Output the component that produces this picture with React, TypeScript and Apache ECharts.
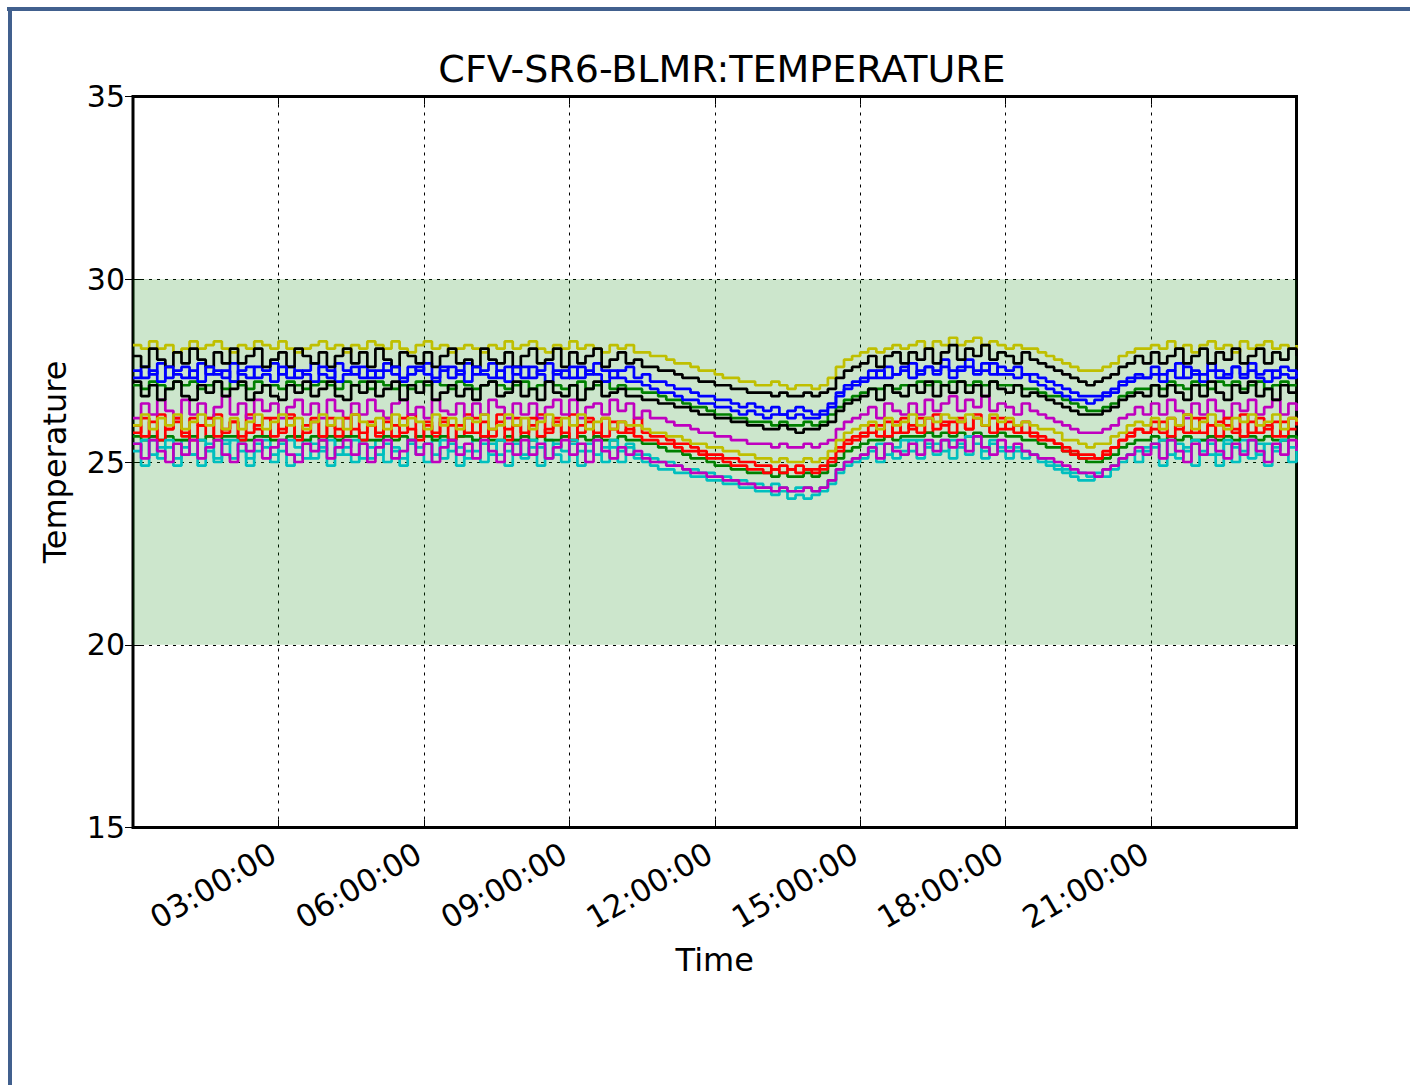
import React, { useEffect, useRef } from "react";
import * as echarts from "echarts";

// One reading every 10 minutes, 00:00 -> 24:00 (145 readings per sensor)
const STEP_HOURS = 1 / 6;
const X_TICK_LABELS_FMT = (v: number) => String(v).padStart(2, "0") + ":00:00";

const yellowA = [
  28.2,28.1,28.3,28.1,28.2,28.0, 28.1,28.3,28.1,28.2,28.3,28.1,
  28.0,28.2,28.1,28.3,28.2,28.1, 28.3,28.1,28.0,28.1,28.2,28.3,
  28.1,28.2,28.0,28.2,28.1,28.3, 28.2,28.1,28.3,28.1,28.0,28.2,
  28.3,28.1,28.2,28.0,28.1,28.2, 28.1,28.0,28.2,28.1,28.3,28.1,
  28.2,28.3,28.1,28.0,28.2,28.1, 28.3,28.1,28.2,28.1,28.0,28.2,
  28.1,28.2,28.0,28.0,27.9,27.9, 27.8,27.7,27.7,27.6,27.5,27.5,
  27.4,27.3,27.3,27.2,27.2,27.1, 27.1,27.2,27.1,27.0,27.1,27.1,
  27.0,27.1,27.3,27.6,27.8,27.9, 28.0,28.1,28.0,28.1,28.2,28.1,
  28.2,28.3,28.1,28.3,28.2,28.4, 28.2,28.3,28.4,28.2,28.3,28.2,
  28.1,28.2,28.1,28.1,28.0,27.9, 27.8,27.7,27.6,27.5,27.5,27.5,
  27.6,27.7,27.9,28.0,28.1,28.1, 28.2,28.1,28.3,28.1,28.2,28.0,
  28.2,28.3,28.1,28.2,28.0,28.3, 28.1,28.2,28.3,28.1,28.2,28.1,
  28.2,
];
const blackA = [
  27.9,27.6,28.1,27.8,27.6,28.0, 27.7,28.1,27.8,27.6,28.0,27.7,
  28.1,27.7,27.9,28.1,27.6,27.8, 28.0,27.6,28.1,27.9,27.7,28.0,
  27.6,27.9,28.1,27.7,28.0,27.6, 28.1,27.8,27.6,28.0,27.9,27.7,
  28.0,27.6,27.9,28.1,27.7,27.8, 27.6,28.1,27.8,27.7,28.0,27.6,
  27.9,28.1,27.7,27.8,28.1,27.6, 28.0,27.7,27.9,28.1,27.6,27.8,
  28.0,27.7,27.8,27.6,27.6,27.5, 27.5,27.4,27.3,27.3,27.2,27.2,
  27.1,27.1,27.0,27.0,26.9,26.9, 26.9,26.8,26.9,26.8,26.8,26.9,
  26.8,26.9,27.0,27.3,27.5,27.6, 27.7,27.9,27.6,27.9,28.0,27.7,
  28.0,27.8,28.1,27.7,28.0,28.2, 27.8,28.1,27.9,28.2,27.8,28.0,
  27.9,27.7,28.0,27.8,27.7,27.6, 27.5,27.4,27.3,27.2,27.1,27.2,
  27.3,27.4,27.6,27.7,27.9,27.7, 28.0,27.7,27.9,28.1,27.7,27.9,
  28.1,27.7,28.0,27.8,28.1,27.7, 27.9,28.1,27.7,28.0,27.8,28.1,
  27.9,
];
const blueA = [
  27.3,27.6,27.4,27.7,27.3,27.5, 27.6,27.3,27.7,27.4,27.5,27.3,
  27.7,27.4,27.3,27.6,27.5,27.7, 27.4,27.6,27.3,27.5,27.7,27.4,
  27.3,27.7,27.5,27.4,27.6,27.3, 27.5,27.7,27.4,27.3,27.6,27.5,
  27.7,27.3,27.5,27.6,27.4,27.7, 27.4,27.5,27.7,27.3,27.6,27.4,
  27.6,27.3,27.5,27.7,27.4,27.5, 27.3,27.6,27.4,27.7,27.5,27.3,
  27.5,27.6,27.3,27.4,27.2,27.2, 27.1,27.0,27.0,26.9,26.8,26.8,
  26.7,26.7,26.6,26.5,26.6,26.5, 26.4,26.5,26.3,26.4,26.5,26.4,
  26.3,26.4,26.6,26.9,27.1,27.2, 27.3,27.5,27.3,27.6,27.4,27.5,
  27.7,27.4,27.6,27.5,27.8,27.5, 27.6,27.8,27.5,27.7,27.4,27.6,
  27.5,27.6,27.4,27.4,27.3,27.2, 27.1,27.0,26.9,26.8,26.8,26.8,
  26.9,27.0,27.2,27.3,27.4,27.3, 27.6,27.4,27.5,27.7,27.3,27.5,
  27.4,27.7,27.5,27.3,27.6,27.4, 27.7,27.4,27.5,27.3,27.6,27.5,
  27.4,
];
const blueB = [
  27.5,27.3,27.5,27.2,27.6,27.4, 27.3,27.5,27.2,27.6,27.4,27.5,
  27.2,27.5,27.6,27.3,27.4,27.2, 27.6,27.3,27.5,27.4,27.2,27.6,
  27.5,27.2,27.4,27.6,27.3,27.5, 27.3,27.5,27.6,27.2,27.4,27.6,
  27.4,27.2,27.6,27.3,27.5,27.2, 27.6,27.4,27.3,27.5,27.2,27.6,
  27.3,27.6,27.4,27.2,27.5,27.3, 27.6,27.3,27.5,27.4,27.2,27.5,
  27.3,27.2,27.2,27.1,27.0,26.9, 26.9,26.8,26.7,26.7,26.6,26.6,
  26.5,26.5,26.4,26.3,26.4,26.3, 26.2,26.3,26.3,26.2,26.3,26.2,
  26.2,26.3,26.5,26.8,27.0,27.1, 27.2,27.3,27.5,27.3,27.4,27.6,
  27.3,27.5,27.6,27.4,27.6,27.3, 27.5,27.6,27.4,27.5,27.7,27.4,
  27.4,27.3,27.4,27.2,27.1,27.0, 26.9,26.8,26.7,26.7,26.6,26.7,
  26.8,26.9,27.1,27.2,27.3,27.3, 27.4,27.2,27.5,27.3,27.6,27.4,
  27.2,27.5,27.3,27.4,27.6,27.3, 27.5,27.3,27.2,27.5,27.4,27.3,
  27.4,
];
const greenA = [
  27.1,27.0,27.2,27.1,27.0,27.2, 27.1,27.2,27.0,27.1,27.2,27.0,
  27.2,27.1,27.0,27.2,27.1,27.1, 27.0,27.2,27.1,27.0,27.1,27.2,
  27.1,27.0,27.2,27.1,27.2,27.0, 27.2,27.1,27.0,27.1,27.0,27.2,
  27.1,27.2,27.1,27.0,27.2,27.1, 27.0,27.1,27.2,27.1,27.0,27.1,
  27.2,27.0,27.1,27.2,27.1,27.0, 27.1,27.2,27.0,27.1,27.2,27.0,
  27.1,27.0,27.0,26.9,26.9,26.8, 26.7,26.7,26.6,26.5,26.5,26.4,
  26.3,26.3,26.2,26.2,26.1,26.1, 26.1,26.0,26.1,26.0,26.0,26.1,
  26.0,26.1,26.3,26.5,26.7,26.8, 26.9,27.0,27.0,27.1,27.0,27.1,
  27.1,27.2,27.1,27.2,27.1,27.2, 27.2,27.1,27.2,27.1,27.2,27.1,
  27.1,27.1,27.0,27.0,26.9,26.8, 26.8,26.7,26.6,26.5,26.4,26.4,
  26.5,26.6,26.8,26.9,27.0,27.0, 27.1,27.0,27.2,27.1,27.0,27.2,
  27.1,27.0,27.2,27.1,27.2,27.0, 27.1,27.2,27.0,27.1,27.2,27.1,
  27.1,
];
const blackB = [
  27.2,26.8,27.1,26.7,27.0,27.2, 26.8,26.7,27.1,26.9,27.2,26.8,
  27.0,27.2,26.7,26.9,27.1,26.8, 26.7,27.1,26.9,27.2,26.8,27.0,
  27.2,26.8,26.7,27.1,26.9,27.2, 26.8,27.0,27.2,26.7,27.1,26.9,
  27.2,26.7,26.9,27.1,26.8,27.0, 26.7,27.1,27.2,26.8,26.9,27.2,
  26.8,27.0,26.7,27.2,26.9,26.8, 27.1,26.7,27.0,27.2,26.8,26.9,
  27.0,26.8,26.8,26.7,26.7,26.6, 26.6,26.5,26.5,26.4,26.3,26.3,
  26.2,26.2,26.1,26.1,26.0,26.0, 25.9,25.9,26.0,25.9,25.8,25.9,
  25.9,26.0,26.1,26.4,26.6,26.7, 26.8,27.0,26.7,27.1,26.9,26.8,
  27.1,26.9,27.2,26.8,27.1,26.9, 27.2,26.9,27.1,26.8,27.2,27.0,
  26.9,27.1,26.8,26.9,26.8,26.7, 26.6,26.5,26.4,26.3,26.3,26.3,
  26.4,26.5,26.7,26.8,26.9,26.8, 27.1,26.8,27.1,26.9,26.7,27.1,
  26.8,27.2,26.9,26.7,27.1,26.9, 27.2,26.8,27.0,26.7,27.1,26.9,
  27.0,
];
const magentaA = [
  26.2,26.6,26.3,26.7,26.4,26.2, 26.7,26.3,26.6,26.2,26.5,26.8,
  26.3,26.6,26.2,26.7,26.4,26.6, 26.2,26.5,26.7,26.3,26.6,26.2,
  26.7,26.4,26.2,26.6,26.3,26.7, 26.4,26.2,26.6,26.7,26.3,26.5,
  26.2,26.7,26.4,26.3,26.6,26.2, 26.6,26.3,26.7,26.5,26.2,26.6,
  26.3,26.6,26.2,26.5,26.7,26.3, 26.7,26.2,26.5,26.6,26.3,26.7,
  26.4,26.6,26.2,26.4,26.2,26.2, 26.1,26.0,26.0,25.9,25.8,25.8,
  25.7,25.7,25.6,25.6,25.5,25.5, 25.5,25.4,25.5,25.4,25.4,25.5,
  25.4,25.5,25.6,25.9,26.1,26.2, 26.3,26.5,26.2,26.6,26.4,26.3,
  26.6,26.3,26.7,26.4,26.6,26.8, 26.4,26.7,26.5,26.8,26.4,26.6,
  26.5,26.3,26.6,26.4,26.3,26.2, 26.1,26.0,25.9,25.8,25.8,25.8,
  25.9,26.0,26.2,26.3,26.5,26.3, 26.6,26.3,26.7,26.4,26.2,26.6,
  26.3,26.7,26.4,26.2,26.6,26.4, 26.7,26.3,26.5,26.7,26.3,26.6,
  26.4,
];
const yellowB = [
  26.0,26.3,25.9,26.2,26.0,26.3, 25.9,26.1,26.3,26.0,26.2,25.9,
  26.2,25.9,26.1,26.3,25.9,26.1, 26.3,26.0,26.2,25.9,26.1,26.3,
  26.0,26.2,25.9,26.3,26.1,26.0, 26.2,25.9,26.3,26.0,26.2,26.1,
  25.9,26.3,26.0,26.2,25.9,26.2, 26.1,26.3,25.9,26.0,26.3,26.0,
  26.2,25.9,26.1,26.3,26.0,26.2, 26.0,26.3,25.9,26.1,26.2,25.9,
  26.1,26.0,26.0,25.9,25.8,25.8, 25.7,25.7,25.6,25.5,25.5,25.4,
  25.4,25.3,25.3,25.2,25.2,25.1, 25.1,25.0,25.1,25.0,25.0,25.1,
  25.0,25.1,25.3,25.6,25.8,25.9, 26.0,26.1,25.9,26.2,26.0,26.1,
  26.3,26.0,26.2,26.1,26.3,26.2, 26.1,26.3,26.2,26.0,26.3,26.1,
  26.2,26.0,26.1,26.0,25.9,25.9, 25.8,25.6,25.6,25.5,25.4,25.5,
  25.5,25.7,25.8,26.0,26.1,26.0, 26.2,25.9,26.2,26.0,26.3,25.9,
  26.1,26.3,26.0,25.9,26.2,26.1, 26.3,26.0,26.1,26.3,25.9,26.2,
  26.1,
];
const redA = [
  25.8,26.2,25.7,26.3,25.9,26.1, 25.7,26.2,26.0,25.7,26.3,25.8,
  26.1,25.7,26.3,25.9,25.7,26.2, 25.8,26.3,25.7,26.0,26.2,25.7,
  26.2,25.9,25.7,26.3,25.8,26.1, 25.7,26.2,26.0,25.8,26.3,25.7,
  26.1,25.7,26.2,26.0,25.7,26.3, 25.8,26.1,25.7,26.3,25.9,26.2,
  25.7,26.0,26.3,25.8,26.2,25.7, 26.3,25.8,26.1,25.7,26.2,25.9,
  26.1,25.8,26.2,25.8,25.7,25.7, 25.6,25.5,25.5,25.4,25.3,25.2,
  25.2,25.1,25.1,25.0,25.0,24.9, 24.9,24.8,24.9,24.8,24.9,24.8,
  24.8,24.9,25.1,25.4,25.6,25.7, 25.8,26.0,25.7,26.1,25.8,26.2,
  25.9,26.2,25.8,26.3,26.0,26.1, 26.2,25.9,26.3,26.0,26.2,25.9,
  26.1,25.8,26.1,25.8,25.7,25.6, 25.5,25.4,25.3,25.2,25.2,25.1,
  25.3,25.4,25.6,25.8,25.9,25.8, 26.1,25.8,26.2,25.9,26.3,25.8,
  26.2,25.7,26.1,26.0,25.8,26.3, 25.8,26.2,25.9,26.1,25.7,26.2,
  26.0,
];
const redB = [
  26.0,25.7,26.1,25.6,25.9,26.2, 25.8,25.6,26.0,26.2,25.7,25.9,
  26.1,25.6,25.8,26.0,26.2,25.7, 25.9,26.2,25.6,25.8,26.1,25.7,
  26.0,25.7,26.2,25.9,25.6,26.0, 25.8,26.1,25.7,26.2,25.9,25.6,
  26.0,25.8,26.1,25.6,26.0,25.8, 26.2,25.7,25.9,26.1,25.6,26.0,
  25.8,26.2,25.7,25.9,26.1,25.8, 25.6,26.0,26.2,25.8,25.7,26.1,
  25.8,25.9,25.7,25.6,25.6,25.5, 25.5,25.4,25.3,25.3,25.2,25.1,
  25.1,25.0,24.9,24.9,24.8,24.8, 24.7,24.8,24.7,24.8,24.7,24.8,
  24.7,24.8,25.0,25.3,25.5,25.6, 25.7,25.8,26.0,25.7,26.1,25.8,
  26.0,25.8,26.2,25.9,26.1,25.8, 26.1,25.9,26.2,26.0,25.8,26.2,
  25.9,26.0,25.8,25.7,25.6,25.6, 25.5,25.3,25.2,25.1,25.1,25.1,
  25.2,25.4,25.6,25.7,25.9,25.8, 25.9,26.1,25.7,26.0,25.8,26.2,
  25.8,26.0,25.7,26.2,25.9,25.7, 26.1,25.8,26.0,25.7,26.1,25.9,
  25.9,
];
const greenB = [
  25.7,25.6,25.7,25.6,25.7,25.6, 25.6,25.7,25.6,25.7,25.6,25.7,
  25.7,25.6,25.6,25.7,25.7,25.6, 25.6,25.7,25.7,25.6,25.7,25.6,
  25.7,25.6,25.7,25.7,25.6,25.6, 25.6,25.7,25.6,25.7,25.6,25.7,
  25.7,25.6,25.7,25.6,25.7,25.7, 25.6,25.7,25.6,25.6,25.7,25.6,
  25.7,25.6,25.7,25.6,25.6,25.7, 25.6,25.7,25.6,25.7,25.6,25.6,
  25.7,25.6,25.6,25.5,25.5,25.4, 25.3,25.3,25.2,25.1,25.1,25.0,
  24.9,24.9,24.8,24.8,24.7,24.7, 24.7,24.6,24.7,24.6,24.6,24.7,
  24.6,24.7,24.9,25.1,25.3,25.4, 25.5,25.6,25.6,25.7,25.6,25.7,
  25.7,25.7,25.8,25.7,25.8,25.7, 25.8,25.7,25.8,25.7,25.7,25.8,
  25.7,25.7,25.6,25.6,25.5,25.4, 25.4,25.3,25.2,25.1,25.0,25.0,
  25.1,25.2,25.4,25.5,25.6,25.6, 25.7,25.6,25.7,25.6,25.7,25.6,
  25.6,25.7,25.6,25.7,25.6,25.7, 25.7,25.6,25.7,25.6,25.6,25.7,
  25.6,
];
const magentaB = [
  25.5,25.1,25.6,25.3,25.0,25.5, 25.2,25.6,25.1,25.4,25.6,25.2,
  25.0,25.5,25.3,25.6,25.1,25.4, 25.6,25.2,25.0,25.5,25.3,25.6,
  25.1,25.4,25.6,25.2,25.5,25.0, 25.4,25.6,25.1,25.3,25.6,25.2,
  25.5,25.0,25.4,25.6,25.2,25.5, 25.1,25.6,25.3,25.0,25.5,25.2,
  25.6,25.2,25.5,25.1,25.4,25.6, 25.2,25.5,25.0,25.6,25.3,25.1,
  25.4,25.2,25.3,25.1,25.0,25.0, 24.9,24.9,24.8,24.7,24.7,24.6,
  24.6,24.5,24.5,24.4,24.4,24.3, 24.3,24.2,24.3,24.2,24.2,24.3,
  24.2,24.3,24.5,24.8,25.0,25.1, 25.2,25.4,25.1,25.5,25.3,25.2,
  25.5,25.2,25.6,25.3,25.6,25.4, 25.6,25.3,25.7,25.4,25.2,25.6,
  25.3,25.5,25.3,25.2,25.1,25.1, 25.0,24.9,24.8,24.7,24.7,24.6,
  24.8,24.9,25.1,25.2,25.4,25.2, 25.5,25.1,25.6,25.3,25.0,25.5,
  25.2,25.6,25.3,25.1,25.5,25.2, 25.6,25.3,25.0,25.5,25.2,25.6,
  25.3,
];
const cyanA = [
  25.5,24.9,25.6,25.1,25.4,24.9, 25.6,25.2,24.9,25.5,25.0,25.6,
  25.1,25.5,24.9,25.3,25.6,25.0, 25.5,24.9,25.2,25.6,25.1,25.4,
  24.9,25.6,25.2,25.0,25.5,25.1, 25.6,25.0,25.4,24.9,25.5,25.2,
  25.0,25.6,25.1,25.5,24.9,25.3, 25.6,25.0,25.5,25.2,24.9,25.6,
  25.1,25.4,24.9,25.6,25.2,25.0, 25.5,24.9,25.3,25.6,25.0,25.4,
  25.0,25.5,25.1,25.0,24.9,24.8, 24.8,24.7,24.7,24.6,24.6,24.5,
  24.5,24.4,24.4,24.3,24.3,24.2, 24.2,24.1,24.2,24.0,24.1,24.0,
  24.1,24.2,24.4,24.7,24.9,25.0, 25.1,25.4,25.0,25.5,25.1,25.3,
  25.6,25.1,25.5,25.2,25.6,25.1, 25.5,25.2,25.7,25.1,25.5,25.3,
  25.1,25.4,25.1,25.2,25.0,24.9, 24.8,24.7,24.6,24.5,24.5,24.6,
  24.6,24.8,25.0,25.2,25.0,25.4, 25.5,24.9,25.6,25.1,25.4,24.9,
  25.6,25.2,24.9,25.5,25.0,25.6, 25.1,25.5,24.9,25.4,25.6,25.0,
  25.4,
];
const cyanB = [
  25.3,25.6,25.2,25.4,25.6,25.1, 25.4,25.2,25.6,25.3,25.1,25.5,
  25.6,25.3,25.1,25.5,25.4,25.2, 25.3,25.6,25.4,25.1,25.5,25.3,
  25.6,25.2,25.4,25.6,25.1,25.4, 25.2,25.5,25.3,25.1,25.6,25.4,
  25.5,25.2,25.6,25.3,25.4,25.1, 25.3,25.5,25.2,25.6,25.3,25.5,
  25.2,25.6,25.4,25.1,25.5,25.3, 25.6,25.3,25.5,25.2,25.4,25.6,
  25.3,25.4,25.2,25.2,25.1,25.0, 25.0,24.9,24.8,24.8,24.7,24.7,
  24.6,24.6,24.5,24.5,24.4,24.4, 24.3,24.4,24.3,24.2,24.3,24.3,
  24.2,24.3,24.5,24.8,25.0,25.1, 25.2,25.3,25.5,25.2,25.4,25.6,
  25.3,25.6,25.4,25.5,25.3,25.6, 25.4,25.7,25.5,25.3,25.6,25.4,
  25.4,25.3,25.3,25.2,25.1,25.0, 24.9,24.8,24.7,24.7,24.6,24.7,
  24.8,24.9,25.1,25.2,25.3,25.3, 25.4,25.6,25.2,25.5,25.3,25.6,
  25.3,25.5,25.2,25.6,25.4,25.3, 25.6,25.2,25.5,25.3,25.6,25.4,
  25.4,
];

const SERIES_DATA: [number[], string][] = [
  [blueA, "#0000ff"],
  [greenA, "#008000"],
  [redA, "#ff0000"],
  [cyanA, "#00bfbf"],
  [magentaA, "#bf00bf"],
  [yellowA, "#bfbf00"],
  [blackA, "#000000"],
  [blueB, "#0000ff"],
  [greenB, "#008000"],
  [redB, "#ff0000"],
  [cyanB, "#00bfbf"],
  [magentaB, "#bf00bf"],
  [yellowB, "#bfbf00"],
  [blackB, "#000000"],
];

const BAND = [20, 30];

export default function App() {
  const ref = useRef<HTMLDivElement>(null);
  useEffect(() => {
    if (!ref.current) return;
    const chart = echarts.init(ref.current, undefined, { renderer: "svg" });
    const font = "DejaVu Sans";
    const tickStyle = { show: true, inside: true, length: 8, lineStyle: { color: "#000", width: 1 } };
    const series: any[] = [
      {
        type: "line",
        data: [[0, 25]],
        showSymbol: false,
        symbol: "none",
        lineStyle: { width: 0, opacity: 0 },
        silent: true,
        markArea: {
          silent: true,
          itemStyle: { color: "rgba(0,128,0,0.2)" },
          data: [[{ yAxis: BAND[0] }, { yAxis: BAND[1] }]],
        },
      },
    ];
    SERIES_DATA.forEach(([arr, color]) => {
      series.push({
        type: "line",
        data: arr.map((v, i) => [i * STEP_HOURS, v]),
        step: "end",
        symbol: "none",
        showSymbol: false,
        silent: true,
        lineStyle: { width: 2.7, color },
        itemStyle: { color },
      });
    });
    chart.setOption({
      animation: false,
      backgroundColor: "#ffffff",
      textStyle: { fontFamily: font },
      title: {
        text: "CFV-SR6-BLMR:TEMPERATURE",
        left: 717,
        top: 45,
        textAlign: "center",
        textStyle: { fontSize: 38, fontWeight: "normal", color: "#000", fontFamily: font },
      },
      graphic: [
        { type: "rect", shape: { x: 7, y: 7, width: 1403, height: 4 }, style: { fill: "#41608e" } },
        { type: "rect", shape: { x: 8, y: 7, width: 4, height: 1078 }, style: { fill: "#41608e" } },
      ],
      grid: {
        left: 133,
        right: 113.5,
        top: 96.5,
        bottom: 257.5,
        show: true,
        borderColor: "#000",
        borderWidth: 3,
        backgroundColor: "transparent",
      },
      xAxis: [
        {
          type: "value",
          min: 0,
          max: 24,
          interval: 3,
          position: "bottom",
          name: "Time",
          nameLocation: "middle",
          nameGap: 116,
          nameTextStyle: { fontSize: 32, color: "#000", fontFamily: font },
          axisLine: { show: false },
          axisTick: tickStyle,
          axisLabel: {
            rotate: 30,
            fontSize: 31,
            color: "#000",
            fontFamily: font,
            margin: 20,
            padding: [0, 6, 0, 0],
            showMinLabel: false,
            showMaxLabel: false,
            formatter: X_TICK_LABELS_FMT,
          },
          splitLine: { show: true, lineStyle: { color: "#000", width: 1, type: [3, 5] } },
        },
        {
          type: "value",
          min: 0,
          max: 24,
          interval: 3,
          position: "top",
          axisLine: { show: false },
          axisTick: tickStyle,
          axisLabel: { show: false },
          splitLine: { show: false },
        },
      ],
      yAxis: [
        {
          type: "value",
          min: 15,
          max: 35,
          interval: 5,
          position: "left",
          name: "Temperature",
          nameLocation: "middle",
          nameRotate: 90,
          nameGap: 62,
          nameTextStyle: { fontSize: 32, color: "#000", fontFamily: font },
          axisLine: { show: false },
          axisTick: tickStyle,
          axisLabel: { fontSize: 30, color: "#000", fontFamily: font, margin: 8 },
          splitLine: { show: true, lineStyle: { color: "#000", width: 1, type: [3, 5] } },
        },
        {
          type: "value",
          min: 15,
          max: 35,
          interval: 5,
          position: "right",
          axisLine: { show: false },
          axisTick: tickStyle,
          axisLabel: { show: false },
          splitLine: { show: false },
        },
      ],
      series,
    });
    return () => chart.dispose();
  }, []);
  return (
    <div
      ref={ref}
      style={{ position: "fixed", left: 0, top: 0, width: 1410, height: 1085 }}
    />
  );
}
